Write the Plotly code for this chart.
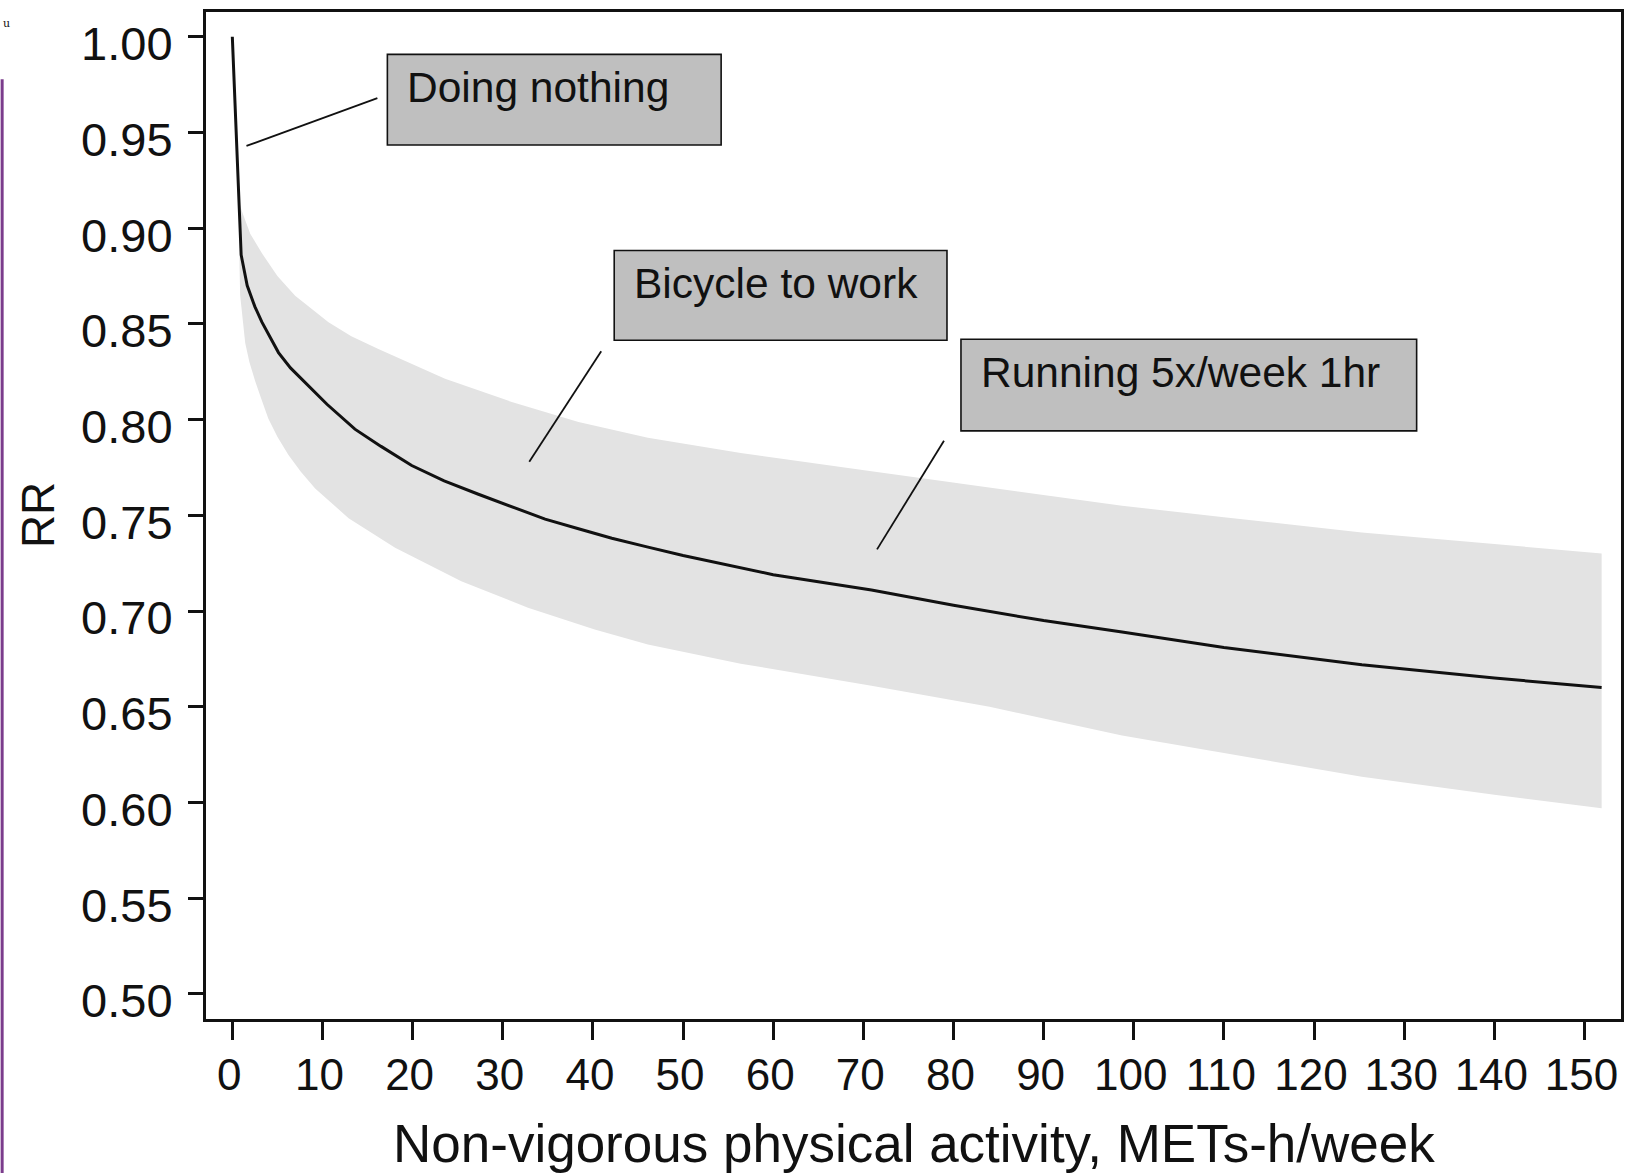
import plotly.graph_objects as go

# ---------------- data ----------------
activity_line = [0, 0.98, 1.65, 2.5, 3.27, 5.12, 6.45, 8.81, 10.5, 13.6, 16.5, 19.9, 23.5, 27.3,
                 31.0, 34.7, 38.4, 42.1, 46.0, 50.0, 60.0, 70.9, 80.0, 90.0, 98.7, 110.0, 125.3,
                 140.0, 151.9]
rr_line = [1.000, 0.886, 0.870, 0.859, 0.851, 0.835, 0.827, 0.816, 0.808, 0.795, 0.786, 0.776,
           0.768, 0.761, 0.7545, 0.748, 0.743, 0.738, 0.7335, 0.729, 0.719, 0.711, 0.703, 0.695,
           0.689, 0.681, 0.672, 0.665, 0.660]

activity_upper = [0.8, 1.05, 2.0, 3.27, 5.0, 6.97, 10.67, 13.2, 16.2, 23.6, 31.0, 38.4, 46.1,
                  56.4, 70.9, 80.0, 98.7, 110.0, 125.3, 140.0, 151.9]
rr_upper = [0.913, 0.909, 0.897, 0.887, 0.875, 0.8647, 0.8508, 0.8435, 0.8369, 0.8213, 0.8092,
            0.7988, 0.7905, 0.7825, 0.773, 0.767, 0.755, 0.749, 0.741, 0.735, 0.730]

activity_lower = [0.8, 0.87, 1.43, 1.9, 2.54, 3.2, 4.0, 5.0, 6.23, 7.6, 9.19, 12.9, 18.06, 25.4,
                  32.8, 40.2, 46.1, 56.4, 70.9, 84.0, 98.7, 110.0, 125.3, 140.0, 151.9]
rr_lower = [0.880, 0.865, 0.840, 0.830, 0.820, 0.811, 0.8005, 0.791, 0.7815, 0.7728, 0.764,
            0.7485, 0.733, 0.7156, 0.7017, 0.6904, 0.6825, 0.6725, 0.661, 0.650, 0.635, 0.626,
            0.6134, 0.604, 0.597]

x_ticks = list(range(0, 151, 10))
y_ticks = [0.50, 0.55, 0.60, 0.65, 0.70, 0.75, 0.80, 0.85, 0.90, 0.95, 1.00]

labels = ["Doing nothing", "Bicycle to work", "Running 5x/week 1hr"]

# ---------------- layout geometry ----------------
W, H = 1641, 1174
L, R, T, B = 205.5, 19.5, 8.5, 154.5
X_RANGE = [-2.92, 154.05]
Y_RANGE = [0.4869, 1.0129]
PW, PH = W - L - R, H - T - B


def px_to_x(px):
    return X_RANGE[0] + (px - L) / PW * (X_RANGE[1] - X_RANGE[0])


def py_to_y(py):
    return Y_RANGE[1] - (py - T) / PH * (Y_RANGE[1] - Y_RANGE[0])


def px_paper(px):
    return (px - L) / PW


def py_paper(py):
    return (H - B - py) / PH


FONT = "Liberation Sans, Arial, Helvetica, sans-serif"
INK = "#111111"

fig = go.Figure()

# confidence band
fig.add_trace(go.Scatter(
    x=activity_upper + activity_lower[::-1],
    y=rr_upper + rr_lower[::-1],
    fill="toself", fillcolor="#e3e3e3",
    line=dict(width=0, color="rgba(0,0,0,0)"),
    mode="lines", hoverinfo="skip", showlegend=False,
))
# main curve
fig.add_trace(go.Scatter(
    x=activity_line, y=rr_line, mode="lines",
    line=dict(color=INK, width=3), showlegend=False,
))

shapes = []
annotations = []

# label boxes (pixel boxes -> data coords)
boxes = [
    (387, 51, 721, 142),
    (614, 248, 947, 338),
    (961, 337, 1417, 429),
]
pointers = [
    ((246, 143), (377, 95)),
    ((529, 460), (601, 349)),
    ((877, 548), (944, 439)),
]
for (x0, y0, x1, y1), text in zip(boxes, labels):
    shapes.append(dict(type="rect", xref="x", yref="y",
                       x0=px_to_x(x0), x1=px_to_x(x1), y0=py_to_y(y0), y1=py_to_y(y1),
                       fillcolor="#bfbfbf", line=dict(color=INK, width=1.6), layer="above"))
    annotations.append(dict(xref="x", yref="y", x=px_to_x(x0 + 18), y=py_to_y(y0 + 33),
                            xanchor="left", yanchor="middle", showarrow=False, text=text,
                            font=dict(family=FONT, size=42.5, color=INK)))
for (a, b) in pointers:
    shapes.append(dict(type="line", xref="x", yref="y",
                       x0=px_to_x(a[0]), y0=py_to_y(a[1]), x1=px_to_x(b[0]), y1=py_to_y(b[1]),
                       line=dict(color=INK, width=1.8), layer="above"))

# purple edge line at far left (page artifact)
shapes.append(dict(type="line", xref="paper", yref="paper",
                   x0=px_paper(1.5), x1=px_paper(1.5), y0=py_paper(76), y1=py_paper(1174),
                   line=dict(color="#7b3c8c", width=3)))
annotations.append(dict(xref="paper", yref="paper", x=px_paper(0), y=py_paper(20),
                        xanchor="left", yanchor="middle", showarrow=False, text="u",
                        font=dict(family="DejaVu Serif", size=11, color=INK)))

# axis titles
annotations.append(dict(xref="paper", yref="paper", x=0.5, y=py_paper(1144),
                        xanchor="center", yanchor="middle", showarrow=False,
                        text="Non-vigorous physical activity, METs-h/week",
                        font=dict(family=FONT, size=53, color=INK)))
annotations.append(dict(xref="paper", yref="paper", x=px_paper(37), y=0.5,
                        xanchor="center", yanchor="middle", showarrow=False, textangle=-90,
                        text="RR", font=dict(family=FONT, size=46, color=INK)))

fig.update_layout(
    width=W, height=H, autosize=False,
    margin=dict(l=L, r=R, t=T, b=B, pad=0),
    paper_bgcolor="white", plot_bgcolor="white",
    shapes=shapes, annotations=annotations,
    font=dict(family=FONT, color=INK),
)
fig.update_xaxes(
    range=X_RANGE, tickvals=x_ticks, ticktext=[str(v) for v in x_ticks],
    showgrid=False, zeroline=False, showline=True, mirror=True,
    linecolor=INK, linewidth=3, ticks="outside", ticklen=18, tickwidth=3,
    tickcolor=INK, tickfont=dict(family=FONT, size=44, color=INK),
    ticklabelstandoff=-3, ticklabelshift=-3,
)
fig.update_yaxes(
    range=Y_RANGE, tickvals=y_ticks, ticktext=[f"{v:.2f}" for v in y_ticks],
    showgrid=False, zeroline=False, showline=True, mirror=True,
    linecolor=INK, linewidth=3, ticks="outside", ticklen=15, tickwidth=3,
    tickcolor=INK, tickfont=dict(family=FONT, size=47, color=INK),
    ticklabelstandoff=6, ticklabelshift=7,
)

fig.write_html("out.html", config={"displayModeBar": False},
               post_script="document.body.style.margin='0px';")
